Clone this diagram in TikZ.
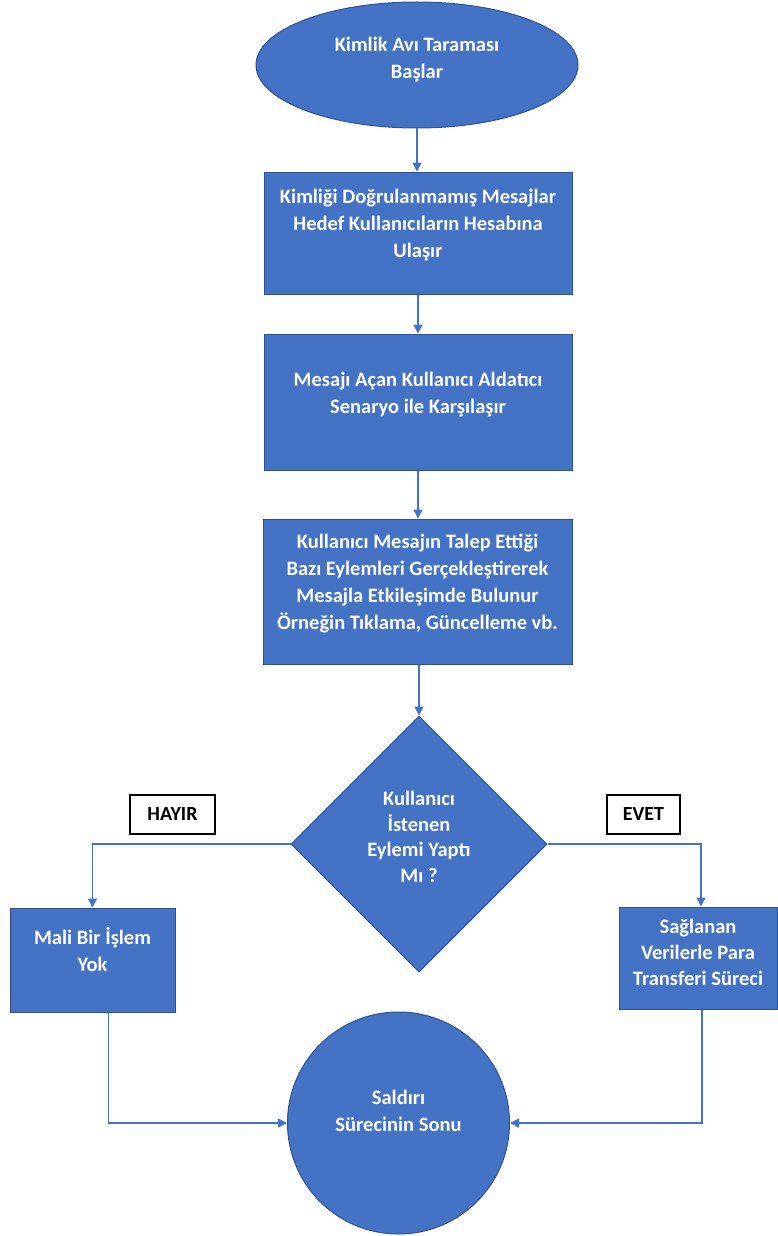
\documentclass[tikz,border=0pt]{standalone}
\usepackage{fontspec}
\setmainfont{Carlito}
\usetikzlibrary{shapes.geometric,arrows.meta}
\definecolor{wblue}{HTML}{4472C4}
\definecolor{wedge}{HTML}{2F528F}
\newcommand\liftby[1]{\rule[-#1]{0pt}{#1}}
\tikzset{
  shp/.style={draw=wedge,fill=wblue,line width=1pt,text=white,font=\bfseries\fontsize{20.5}{27}\selectfont,align=center,inner sep=0pt},
  boxnode/.style={shp,rectangle},
  conn/.style={draw=wblue,line width=1.4pt,-{Triangle[width=9pt,length=9pt]}},
  tag/.style={draw=black,line width=1.5pt,fill=white,font=\bfseries\fontsize{20}{22}\selectfont,inner sep=0pt,minimum height=39pt}
}
\begin{document}
\begin{tikzpicture}[x=1pt,y=-1pt]
\useasboundingbox (0,0) rectangle (777,1236);
\node[shp,ellipse,minimum width=322pt,minimum height=126pt] (start) at (417,65) {Kimlik Avı Taraması\\Başlar\liftby{15pt}};
\node[boxnode,minimum width=308pt,minimum height=122pt] (b1) at (418,233) {Kimliği Doğrulanmamış Mesajlar\\Hedef Kullanıcıların Hesabına\\Ulaşır\liftby{19pt}};
\node[boxnode,minimum width=308pt,minimum height=136pt] (b2) at (418,402) {Mesajı Açan Kullanıcı Aldatıcı\\Senaryo ile Karşılaşır\liftby{19pt}};
\node[boxnode,minimum width=309pt,minimum height=145pt] (b3) at (417.5,591.5) {Kullanıcı Mesajın Talep Ettiği\\Bazı Eylemleri Gerçekleştirerek\\Mesajla Etkileşimde Bulunur\\Örneğin Tıklama, Güncelleme vb.\liftby{19pt}};
\node[shp,diamond,aspect=1,minimum width=256pt,minimum height=256pt,font=\bfseries\fontsize{20.5}{25.5}\selectfont] (dec) at (419,844) {Kullanıcı\\İstenen\\Eylemi Yaptı\\Mı ?\liftby{14pt}};
\node[boxnode,minimum width=165pt,minimum height=104pt] (no) at (92.5,960) {Mali Bir İşlem\\Yok\liftby{21pt}};
\node[boxnode,minimum width=158pt,minimum height=102pt,font=\bfseries\fontsize{20.5}{26}\selectfont] (yes) at (698,958) {Sağlanan\\Verilerle Para\\Transferi Süreci\liftby{12pt}};
\node[shp,circle,minimum size=222pt] (end) at (398.5,1123) {Saldırı\\Sürecinin Sonu\liftby{25pt}};
\node[tag,minimum width=85pt] (hayir) at (172.5,814.5) {HAYIR};
\node[tag,minimum width=73pt] (evet) at (643.5,814.5) {EVET};
\draw[conn] (start.south) -- (b1.north -| start.south);
\draw[conn] (b1.south) -- (b2.north);
\draw[conn] (b2.south) -- (b3.north -| b2.south);
\draw[conn] (b3.south -| dec.north) -- (dec.north);
\draw[conn] (dec.west) -| (no.north);
\draw[conn] (dec.east) -| ([xshift=3pt]yes.north);
\draw[conn] ([xshift=16pt]no.south) |- (end.west);
\draw[conn] ([xshift=4pt]yes.south) |- (end.east);
\end{tikzpicture}
\end{document}
